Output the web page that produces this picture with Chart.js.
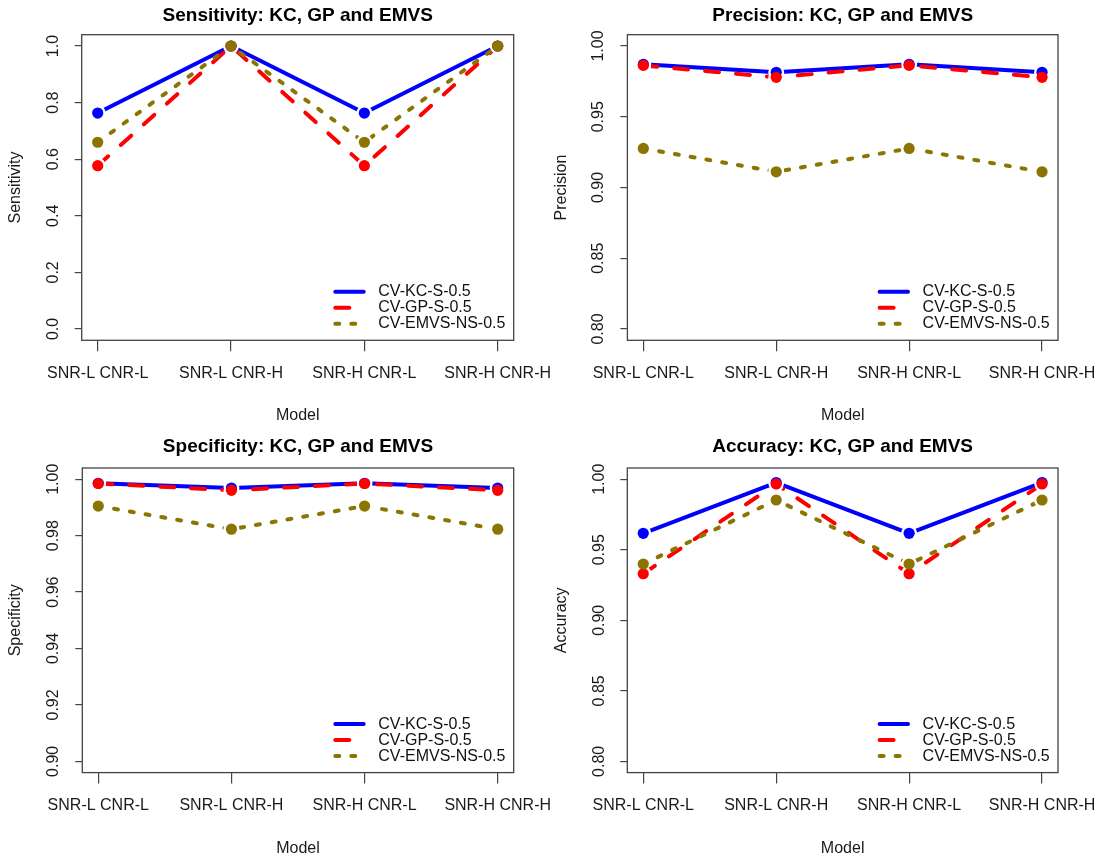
<!DOCTYPE html>
<html><head><meta charset="utf-8">
<script src="https://cdn.jsdelivr.net/npm/chart.js@4.4.1/dist/chart.umd.min.js"></script>
<style>
html,body{margin:0;padding:0;background:#fff;}
#wrap{position:relative;width:1106px;height:862px;background:#fff;}
canvas{position:absolute;}
</style></head><body>
<div id="wrap">
<canvas id="c1" width="553" height="431" style="left:0;top:0"></canvas>
<canvas id="c2" width="553" height="431" style="left:553px;top:0"></canvas>
<canvas id="c3" width="553" height="431" style="left:0;top:431px"></canvas>
<canvas id="c4" width="553" height="431" style="left:553px;top:431px"></canvas>
</div>
<script>
// ---------- data ----------
const categories = ["SNR-L CNR-L", "SNR-L CNR-H", "SNR-H CNR-L", "SNR-H CNR-H"];
const seriesNames = ["CV-KC-S-0.5", "CV-GP-S-0.5", "CV-EMVS-NS-0.5"];

const sensKC   = [0.763, 1.000, 0.763, 1.000];
const sensGP   = [0.577, 1.000, 0.577, 1.000];
const sensEMVS = [0.660, 1.000, 0.660, 1.000];

const precKC   = [0.9871, 0.9814, 0.9871, 0.9814];
const precGP   = [0.9863, 0.9779, 0.9863, 0.9779];
const precEMVS = [0.9276, 0.9111, 0.9276, 0.9111];

const specKC   = [0.9986, 0.9969, 0.9986, 0.9969];
const specGP   = [0.9985, 0.9961, 0.9985, 0.9961];
const specEMVS = [0.9905, 0.9823, 0.9905, 0.9823];

const accKC    = [0.9617, 0.9977, 0.9617, 0.9977];
const accGP    = [0.9330, 0.9967, 0.9330, 0.9967];
const accEMVS  = [0.9399, 0.9853, 0.9399, 0.9853];

const sensTicks = ["0.0", "0.2", "0.4", "0.6", "0.8", "1.0"];
const precTicks = ["0.80", "0.85", "0.90", "0.95", "1.00"];
const specTicks = ["0.90", "0.92", "0.94", "0.96", "0.98", "1.00"];
const accTicks  = ["0.80", "0.85", "0.90", "0.95", "1.00"];

// ---------- styles ----------
const FONT = '"Liberation Sans", Arial, Helvetica, sans-serif';
const colors = ['#0000FF', '#FF0000', '#8B7500'];
const dashes = [[], [14, 17], [4, 12]];
const GAP = 8; // R type="b": line stops short of each point

const panels = [
  {id:'c1', title:'Sensitivity: KC, GP and EMVS', ylab:'Sensitivity', ticks:sensTicks, series:[sensKC, sensGP, sensEMVS],
   left:81.7, padRight:39.3, xH:90.7, tTop:4.6, tBot:7.3, yTitlePad:8, xTitlePad:7, xTickPad:14, yTickPad:10.3},
  {id:'c2', title:'Precision: KC, GP and EMVS', ylab:'Precision', ticks:precTicks, series:[precKC, precGP, precEMVS],
   left:74.4, padRight:48, xH:90.7, tTop:4.6, tBot:7.3, yTitlePad:1, xTitlePad:7, xTickPad:14, yTickPad:6},
  {id:'c3', title:'Specificity: KC, GP and EMVS', ylab:'Specificity', ticks:specTicks, series:[specKC, specGP, specEMVS],
   left:82.3, padRight:39.3, xH:89.4, tTop:4.8, tBot:9.4, yTitlePad:8, xTitlePad:5.5, xTickPad:14.4, yTickPad:6.5},
  {id:'c4', title:'Accuracy: KC, GP and EMVS', ylab:'Accuracy', ticks:accTicks, series:[accKC, accGP, accEMVS],
   left:74.3, padRight:48, xH:89.4, tTop:4.8, tBot:9.4, yTitlePad:1, xTitlePad:5.5, xTickPad:14.4, yTickPad:5.6}
];

const boxPlugin = {
  id: 'rbox',
  afterDraw(chart) {
    const {ctx, chartArea: a} = chart;
    ctx.save();
    ctx.strokeStyle = '#444';
    ctx.lineWidth = 1.3;
    ctx.strokeRect(a.left, a.top, a.right - a.left, a.bottom - a.top);
    ctx.restore();
  }
};

// gaps between line and points, like R's type = "b"
const gapPlugin = {
  id: 'rgap',
  beforeDatasetDraw(chart, args) {
    const ctx = chart.ctx;
    ctx.save();
    ctx.beginPath();
    ctx.rect(0, 0, chart.width, chart.height);
    args.meta.data.forEach(pt => {
      ctx.moveTo(pt.x + GAP, pt.y);
      ctx.arc(pt.x, pt.y, GAP, 0, Math.PI * 2, true);
    });
    ctx.clip('evenodd');
  },
  afterDatasetDraw(chart, args) {
    const ctx = chart.ctx;
    ctx.restore();
    args.meta.data.forEach(el => el.draw(ctx, chart.chartArea));
  }
};

const legendPlugin = {
  id: 'rlegend',
  afterDraw(chart) {
    const {ctx, chartArea: a} = chart;
    ctx.save();
    chart.data.datasets.forEach((ds, i) => {
      const y = a.bottom - 48.5 + 16 * i;
      ctx.beginPath();
      ctx.strokeStyle = ds.borderColor;
      ctx.lineWidth = ds.borderWidth;
      ctx.lineCap = 'round';
      ctx.setLineDash(ds.borderDash || []);
      ctx.moveTo(a.right - 178.4, y);
      ctx.lineTo(a.right - 150, y);
      ctx.stroke();
      ctx.setLineDash([]);
      ctx.fillStyle = '#111';
      ctx.font = '16px ' + FONT;
      ctx.textBaseline = 'middle';
      ctx.textAlign = 'left';
      ctx.fillText(ds.label, a.right - 135.4, y);
    });
    ctx.restore();
  }
};

function makeChart(p) {
  const tickVals = p.ticks.map(t => parseFloat(t));
  const lo = tickVals[0], hi = tickVals[tickVals.length - 1];
  const ext = (hi - lo) * 0.04;
  const datasets = p.series.map((vals, k) => ({
    label: seriesNames[k],
    data: vals.map((v, i) => ({x: i, y: v})),
    borderColor: colors[k],
    backgroundColor: colors[k],
    pointBackgroundColor: colors[k],
    pointBorderWidth: 0,
    pointRadius: 5.6,
    borderWidth: 4,
    borderDash: dashes[k],
    borderCapStyle: 'round',
    borderJoinStyle: 'round',
    tension: 0,
    order: 3 - k
  }));
  new Chart(document.getElementById(p.id), {
    type: 'line',
    data: {datasets},
    plugins: [gapPlugin, boxPlugin, legendPlugin],
    options: {
      responsive: false,
      animation: false,
      devicePixelRatio: 1,
      layout: {padding: {left: 0, right: p.padRight, top: 0, bottom: 0}},
      plugins: {
        legend: {display: false},
        tooltip: {enabled: false},
        title: {
          display: true, text: p.title, fullSize: false, color: '#000',
          font: {family: FONT, size: 19, weight: 'bold', lineHeight: 1.2},
          padding: {top: p.tTop, bottom: p.tBot}
        }
      },
      scales: {
        x: {
          type: 'linear', min: -0.12, max: 3.12,
          afterBuildTicks: s => { s.ticks = categories.map((c, i) => ({value: i})); },
          afterFit: s => { s.height = p.xH; s.paddingLeft = 0; s.paddingRight = 0; },
          ticks: {
            callback: (v, i) => categories[i], autoSkip: false, maxRotation: 0, minRotation: 0,
            color: '#1a1a1a', padding: p.xTickPad, font: {family: FONT, size: 16, lineHeight: 1}
          },
          grid: {drawOnChartArea: false, drawTicks: true, tickLength: 11, color: '#444', lineWidth: 1.2},
          border: {display: false},
          title: {display: true, text: 'Model', color: '#1a1a1a',
                  font: {family: FONT, size: 16, lineHeight: 1}, padding: {top: 0, bottom: p.xTitlePad}}
        },
        y: {
          type: 'linear', min: lo - ext, max: hi + ext,
          afterBuildTicks: s => { s.ticks = tickVals.map(v => ({value: v})); },
          afterFit: s => { s.width = p.left; s.paddingTop = 0; s.paddingBottom = 0; },
          ticks: {
            callback: (v, i) => p.ticks[i], autoSkip: false, minRotation: 90, maxRotation: 90,
            crossAlign: 'center', color: '#1a1a1a', padding: p.yTickPad,
            font: {family: FONT, size: 16, lineHeight: 1}
          },
          grid: {drawOnChartArea: false, drawTicks: true, tickLength: 7, color: '#444', lineWidth: 1.2},
          border: {display: false},
          title: {display: true, text: p.ylab, color: '#1a1a1a',
                  font: {family: FONT, size: 16, lineHeight: 1}, padding: {top: p.yTitlePad, bottom: 0}}
        }
      }
    }
  });
}
panels.forEach(makeChart);
</script>
</body></html>
